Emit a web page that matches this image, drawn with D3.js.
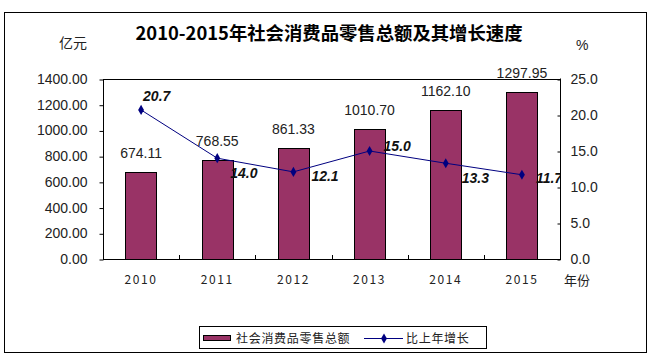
<!DOCTYPE html>
<html><head><meta charset="utf-8">
<script src="https://cdn.jsdelivr.net/npm/d3@7"></script>
<style>body{margin:0;background:#fff}svg{display:block}</style>
</head><body>
<script>
const years = ["2010","2011","2012","2013","2014","2015"];
const salesValues = [674.11, 768.55, 861.33, 1010.70, 1162.10, 1297.95];
const growthValues = [20.7, 14.0, 12.1, 15.0, 13.3, 11.7];
const leftTicks = [0,200,400,600,800,1000,1200,1400];
const rightTicks = [0,5,10,15,20,25];
const titleText = "2010-2015年社会消费品零售总额及其增长速度";
const seriesNames = ["社会消费品零售总额","比上年增长"];
// label nudges for growth labels (relative to point), styling only
const growthLabelNudge = [[2,-9],[13,20],[18,9],[14,0],[16,20],[14,8]];

const W=659,H=361;
const m={l:103,r:560,t:79,b:259};
const svg=d3.select("body").append("svg").attr("width",W).attr("height",H);
const SANS="'Liberation Sans', Arial, sans-serif";
const CJK="'Noto Sans CJK SC', sans-serif";

svg.append("rect").attr("x",4.5).attr("y",12.5).attr("width",642).attr("height",340)
  .attr("fill","#fff").attr("stroke","#000").attr("stroke-width",1);

svg.append("text").attr("x",329).attr("y",40).attr("text-anchor","middle")
  .attr("font-family",CJK).attr("font-weight","bold").attr("font-size",18)
  .attr("textLength",387).attr("lengthAdjust","spacingAndGlyphs").text(titleText);

svg.append("text").attr("x",59).attr("y",48).attr("font-family",CJK).attr("font-size",14).attr("fill","#222").text("亿元");
svg.append("text").attr("x",576).attr("y",50).attr("font-family",SANS).attr("font-size",14).attr("fill","#222").text("%");

const x=d3.scaleBand().domain(years).range([m.l,m.r]).paddingInner(0.59).paddingOuter(0.295);
const yL=d3.scaleLinear().domain([0,1400]).range([m.b,m.t]);
const yR=d3.scaleLinear().domain([0,25]).range([m.b,m.t]);

// bars
svg.append("g").selectAll("rect").data(years).join("rect")
  .attr("x",d=>Math.round(x(d))+0.5).attr("y",(d,i)=>Math.round(yL(salesValues[i]))+0.5)
  .attr("width",Math.round(x.bandwidth()))
  .attr("height",(d,i)=>m.b-Math.round(yL(salesValues[i])))
  .attr("fill","#993366").attr("stroke","#000").attr("stroke-width",1);

// bar labels
svg.append("g").selectAll("text").data(years).join("text")
  .attr("x",d=>x(d)+x.bandwidth()/2).attr("y",(d,i)=>yL(salesValues[i])-14)
  .attr("text-anchor","middle").attr("font-family",SANS).attr("font-size",14).attr("fill","#222")
  .text((d,i)=>salesValues[i].toFixed(2));

// left axis
const gL=svg.append("g").attr("transform",`translate(${m.l+0.5},0)`)
  .call(d3.axisLeft(yL).tickValues(leftTicks).tickSize(4).tickPadding(12).tickFormat(d=>d.toFixed(2)));
gL.select(".domain").remove();
gL.append("line").attr("x1",0).attr("x2",0).attr("y1",m.t).attr("y2",m.b+0.5).attr("stroke","#000");
gL.selectAll(".tick line").attr("stroke","#000").attr("transform","translate(0,0.5)");
gL.selectAll("text").attr("font-family",SANS).attr("font-size",14).attr("fill","#222");

// right axis
const gR=svg.append("g").attr("transform",`translate(${m.r+0.5},0)`)
  .call(d3.axisRight(yR).tickValues(rightTicks).tickSize(-3).tickPadding(10).tickFormat(d=>d.toFixed(1)));
gR.select(".domain").remove();
gR.append("line").attr("x1",0).attr("x2",0).attr("y1",m.t-0.5).attr("y2",m.b+0.5).attr("stroke","#000");
gR.selectAll(".tick line").attr("stroke","#000").attr("transform","translate(0,0.5)");
gR.selectAll("text").attr("font-family",SANS).attr("font-size",14).attr("fill","#222");

// top line of plot
svg.append("line").attr("x1",m.l).attr("x2",m.r+1).attr("y1",m.t+0.5).attr("y2",m.t+0.5).attr("stroke","#000");

// bottom axis
const step=x.step();
const bounds=d3.range(years.length+1).map(i=>m.l+i*step);
svg.append("line").attr("x1",m.l).attr("x2",m.r+1).attr("y1",m.b+0.5).attr("y2",m.b+0.5).attr("stroke","#000");
svg.append("g").selectAll("line").data(bounds).join("line")
  .attr("x1",d=>Math.round(d)+0.5).attr("x2",d=>Math.round(d)+0.5).attr("y1",m.b-4).attr("y2",m.b)
  .attr("stroke","#000");
svg.append("g").selectAll("text").data(years).join("text")
  .attr("x",d=>x(d)+x.bandwidth()/2).attr("y",284).attr("text-anchor","middle")
  .attr("font-family",CJK).attr("font-size",12).attr("letter-spacing",1.6).attr("fill","#222").text(d=>d);
svg.append("text").attr("x",564).attr("y",285).attr("font-family",CJK).attr("font-size",13).attr("fill","#222").text("年份");

// line
const cx=(d)=>x(d)+x.bandwidth()/2;
const line=d3.line().x((d,i)=>cx(years[i])).y(d=>yR(d));
svg.append("path").datum(growthValues).attr("d",line).attr("fill","none").attr("stroke","#000080").attr("stroke-width",1);
const diamond=d3.symbol().type(d3.symbolDiamond).size(30);
svg.append("g").selectAll("path").data(growthValues).join("path")
  .attr("d",diamond).attr("transform",(d,i)=>`translate(${cx(years[i])},${yR(d)})`).attr("fill","#000080");

svg.append("clipPath").attr("id","pc").append("rect").attr("x",m.l).attr("y",m.t-30).attr("width",m.r-m.l).attr("height",m.b-m.t+30);
svg.append("g").attr("clip-path","url(#pc)").selectAll("text").data(growthValues).join("text")
  .attr("x",(d,i)=>cx(years[i])+growthLabelNudge[i][0]).attr("y",(d,i)=>yR(d)+growthLabelNudge[i][1])
  .attr("font-family",SANS).attr("font-size",14).attr("font-weight","bold").attr("font-style","italic").attr("fill","#111")
  .text(d=>d.toFixed(1));

// legend
const lg=svg.append("g");
lg.append("rect").attr("x",199.5).attr("y",326.5).attr("width",287).attr("height",22).attr("fill","#fff").attr("stroke","#000");
lg.append("rect").attr("x",203.5).attr("y",335.5).attr("width",27).attr("height",5).attr("fill","#993366").attr("stroke","#000");
lg.append("text").attr("x",236).attr("y",343).attr("font-family",CJK).attr("font-size",12).attr("letter-spacing",0.7).attr("fill","#222").text(seriesNames[0]);
lg.append("line").attr("x1",364).attr("x2",403).attr("y1",338.5).attr("y2",338.5).attr("stroke","#000080");
lg.append("path").attr("d",diamond).attr("transform","translate(384,338.5)").attr("fill","#000080");
lg.append("text").attr("x",406).attr("y",343).attr("font-family",CJK).attr("font-size",12).attr("letter-spacing",0.7).attr("fill","#222").text(seriesNames[1]);
</script>
</body></html>
